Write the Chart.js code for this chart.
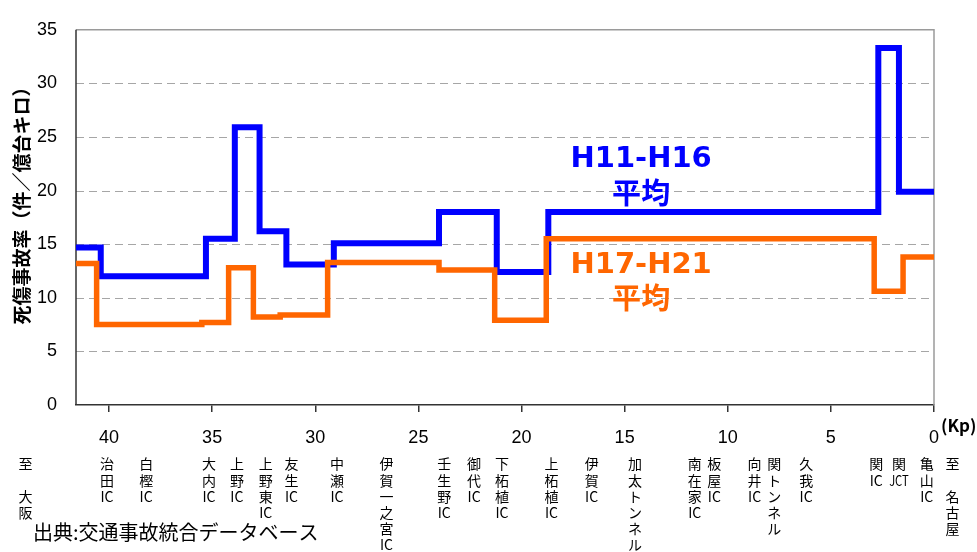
<!DOCTYPE html>
<html lang="ja">
<head>
<meta charset="utf-8">
<title>死傷事故率</title>
<script src="https://cdn.jsdelivr.net/npm/chart.js@4.4.1/dist/chart.umd.min.js"></script>
<style>
  html, body { margin: 0; padding: 0; background: #fff; }
  #wrap { width: 977px; height: 552px; }
</style>
</head>
<body>
<div id="wrap"><canvas id="accidentChart" width="977" height="552"></canvas></div>
<script>
// 区間の開始Kp と その区間の死傷事故率（件/億台キロ）
const h11Kp   = [41.6, 40.4, 35.3, 33.9, 32.7, 31.4, 29.1, 24.0, 21.2, 18.7, 2.7, 1.7, 0];
const h11Rate = [14.7, 12.0, 15.5, 25.9, 16.2, 13.1, 15.1, 18.0, 12.4, 18.0, 33.3, 19.9, 19.9];
const h17Kp   = [41.6, 40.6, 35.5, 34.2, 33.0, 31.7, 29.4, 24.0, 21.3, 18.8, 2.9, 1.5, 0];
const h17Rate = [13.2, 7.5, 7.7, 12.8, 8.2, 8.4, 13.3, 12.6, 7.9, 15.5, 10.6, 13.8, 13.8];

// IC・トンネル名とその位置(Kp)
const icNames = ['至 大阪', '治田IC', '白樫IC', '大内IC', '上野IC', '上野東IC', '友生IC', '中瀬IC',
  '伊賀一之宮IC', '壬生野IC', '御代IC', '下柘植IC', '上柘植IC', '伊賀IC', '加太トンネル',
  '南在家IC', '板屋IC', '向井IC', '関トンネル', '久我IC', '関IC', '関JCT', '亀山IC', '至 名古屋'];
const icKp = [44.05, 40.1, 38.2, 35.15, 33.8, 32.4, 31.15, 28.95,
  26.55, 23.75, 22.3, 20.95, 18.55, 16.6, 14.5,
  11.6, 10.65, 8.7, 7.75, 6.2, 2.8, 1.7, 0.35, -0.9];

const xMax = 41.6;
const yMax = 35;

const toPoints = (kp, rate) => kp.map((k, i) => ({ x: k, y: rate[i] }));

const overlay = {
  id: 'overlay',
  beforeDatasetsDraw(chart) {
    const { ctx, chartArea: a } = chart;
    const ys = chart.scales.y;
    ctx.save();
    // 破線のグリッド
    ctx.strokeStyle = '#a6a6a6';
    ctx.lineWidth = 1.2;
    ctx.setLineDash([8, 5]);
    ys.ticks.forEach(t => {
      if (t.value <= 0 || t.value >= yMax) return;
      const py = Math.round(ys.getPixelForValue(t.value)) + 0.5;
      ctx.beginPath();
      ctx.moveTo(a.left, py);
      ctx.lineTo(a.right, py);
      ctx.stroke();
    });
    ctx.setLineDash([]);
    ctx.strokeStyle = '#9a9a9a';
    ctx.lineWidth = 1.5;
    ctx.beginPath();
    ctx.moveTo(a.left, a.top);
    ctx.lineTo(a.right, a.top);
    ctx.lineTo(a.right, a.bottom);
    ctx.stroke();
    ctx.strokeStyle = '#333';
    ctx.beginPath();
    ctx.moveTo(a.left, a.top);
    ctx.lineTo(a.left, a.bottom);
    ctx.stroke();
    ctx.restore();
  },
  afterDraw(chart) {
    const { ctx } = chart;
    const xs = chart.scales.x;
    const ys = chart.scales.y;
    ctx.save();

    // 縦軸タイトル
    ctx.save();
    ctx.translate(22, 201);
    ctx.rotate(-Math.PI / 2);
    ctx.textAlign = 'center';
    ctx.textBaseline = 'middle';
    ctx.fillStyle = '#000';
    ctx.font = 'bold 19px "Noto Sans CJK JP", sans-serif';
    ctx.fillText('死傷事故率（件／億台キロ）', 0, 0);
    ctx.restore();

    // 凡例代わりの注記
    ctx.textAlign = 'center';
    ctx.textBaseline = 'middle';
    const note = (txt, sub, color, kp, val) => {
      const px = xs.getPixelForValue(kp);
      const py = ys.getPixelForValue(val);
      ctx.fillStyle = color;
      ctx.font = 'bold 29px "DejaVu Sans", sans-serif';
      ctx.fillText(txt, px, py);
      ctx.font = 'bold 29px "Noto Sans CJK JP", sans-serif';
      ctx.fillText(sub, px, py + 33);
    };
    note('H11-H16', '平均', '#0000ff', 14.2, 22.9);
    note('H17-H21', '平均', '#ff6600', 14.2, 13.05);

    // IC名（縦書き）
    ctx.fillStyle = '#000';
    ctx.font = '14px "Noto Sans CJK JP", sans-serif';
    icNames.forEach((name, i) => {
      const px = xs.getPixelForValue(icKp[i]);
      const parts = name.match(/IC|JCT|./gu);
      parts.forEach((p, j) => {
        if (p === ' ') return;
        const py = 464 + j * 16.2;
        if (p === 'JCT') {
          ctx.save();
          ctx.translate(px, py);
          ctx.scale(0.8, 1);
          ctx.fillText(p, 0, 0);
          ctx.restore();
        } else {
          ctx.fillText(p, px, py);
        }
      });
    });

    // 単位
    ctx.textAlign = 'left';
    ctx.font = 'bold 17px "Noto Sans CJK JP", sans-serif';
    ctx.fillText('(Kp)', 941, 426);

    // 出典
    ctx.font = '20px "Noto Sans CJK JP", sans-serif';
    ctx.fillText('出典:交通事故統合データベース', 33, 532);
    ctx.restore();
  }
};

new Chart(document.getElementById('accidentChart').getContext('2d'), {
  type: 'line',
  data: {
    datasets: [{
      label: 'H17-H21平均',
      data: toPoints(h17Kp, h17Rate),
      borderColor: '#ff6600',
      borderWidth: 5.5,
      stepped: true,
      pointRadius: 0,
      fill: false
    }, {
      label: 'H11-H16平均',
      data: toPoints(h11Kp, h11Rate),
      borderColor: '#0000ff',
      borderWidth: 6,
      stepped: true,
      pointRadius: 0,
      fill: false
    }]
  },
  options: {
    responsive: false,
    animation: false,
    layout: { padding: { top: 13, right: 43, left: 0, bottom: 0 } },
    plugins: {
      legend: { display: false },
      tooltip: { enabled: false }
    },
    scales: {
      x: {
        type: 'linear',
        reverse: true,
        min: 0,
        max: xMax,
        afterFit: function (scale) { scale.height = 147; },
        ticks: {
          stepSize: 5,
          includeBounds: false,
          maxRotation: 0,
          padding: 15,
          color: '#000',
          font: { family: '"Liberation Sans", sans-serif', size: 18 }
        },
        grid: {
          drawOnChartArea: false,
          drawTicks: true,
          tickLength: 7,
          color: '#333',
          lineWidth: 1.5
        },
        border: { display: true, color: '#333', width: 1.5 }
      },
      y: {
        min: 0,
        max: yMax,
        afterFit: function (scale) { scale.width = 76; },
        ticks: {
          stepSize: 5,
          padding: 19,
          color: '#000',
          font: { family: '"Liberation Sans", sans-serif', size: 18 }
        },
        grid: { display: false, drawTicks: false },
        border: { display: false }
      }
    }
  },
  plugins: [overlay]
});
</script>
</body>
</html>
